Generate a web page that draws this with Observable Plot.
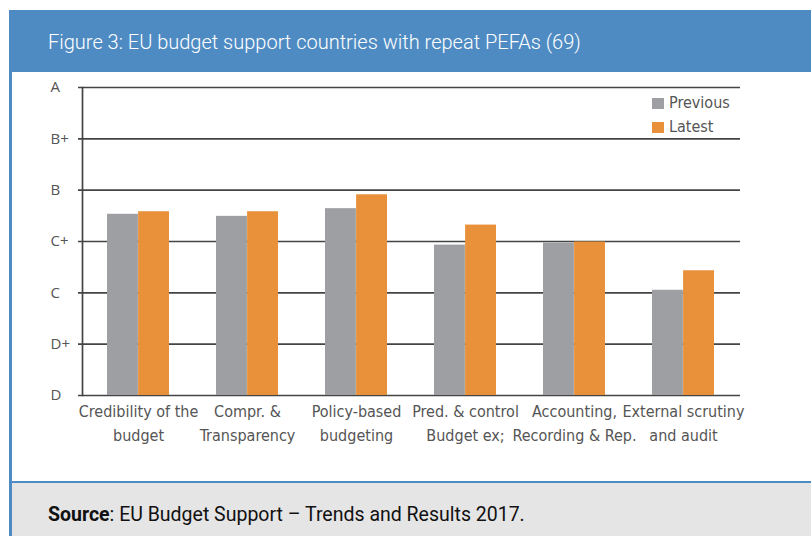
<!DOCTYPE html>
<html>
<head>
<meta charset="utf-8">
<script src="https://cdn.jsdelivr.net/npm/d3@7"></script>
<script src="https://cdn.jsdelivr.net/npm/@observablehq/plot@0.6"></script>
<style>
  html, body { margin: 0; padding: 0; }
  body { width: 811px; height: 536px; position: relative; overflow: hidden; background: #fff; }
  #header { position: absolute; left: 9px; top: 10px; width: 802px; height: 62px; background: #4f8bc3; }
  #title { position: absolute; left: 48px; top: 30px; color: #fff; font-family: Roboto, "Open Sans", sans-serif; font-size: 20px; font-weight: 300; white-space: nowrap; }
  #lborder { position: absolute; left: 9px; top: 72px; width: 3px; height: 464px; background: #4f8bc3; }
  #footer { position: absolute; left: 12px; top: 481px; width: 799px; height: 55px; background: #e5e5e5; border-top: 2px solid #4f8bc3; }
  #source { position: absolute; left: 48px; top: 503px; font-family: Roboto, "Open Sans", sans-serif; font-size: 19.5px; color: #111; white-space: nowrap; }
  #source b { font-weight: 700; }
  #chart { position: absolute; left: 12px; top: 72px; }
  #legend { position: absolute; left: 652px; top: 91px; font-family: "Liberation Sans Narrow", "DejaVu Sans Condensed", sans-serif; font-size: 16px; color: #555; line-height: 24px; }
  #legend .sw { display: inline-block; width: 12px; height: 11px; margin-right: 5px; vertical-align: -1px; }
  #chart svg g[aria-label="y-axis tick label"] text { font-size: 15px; }
</style>
</head>
<body>
<div id="header"></div>
<div id="title">Figure 3: EU budget support countries with repeat PEFAs (69)</div>
<div id="lborder"></div>
<div id="chart"></div>
<div id="legend"></div>
<div id="footer"></div>
<div id="source"><b>Source</b>: EU Budget Support – Trends and Results 2017.</div>
<script>
// Data
const categories = [
  "Credibility of the\nbudget",
  "Compr. &\nTransparency",
  "Policy-based\nbudgeting",
  "Pred. & control\nBudget ex;",
  "Accounting,\nRecording & Rep.",
  "External scrutiny\nand audit"
];
const series = ["Previous", "Latest"];
// scores on grade index scale: 0 = D, 1 = D+, 2 = C, 3 = C+, 4 = B, 5 = B+, 6 = A
const previous = [3.53, 3.49, 3.64, 2.93, 2.97, 2.05];
const latest   = [3.58, 3.58, 3.91, 3.32, 2.99, 2.43];
const grades = ["D", "D+", "C", "C+", "B", "B+", "A"];
const colors = ["#9d9fa2", "#e8913a"];

const data = categories.flatMap((c, i) => [
  {category: c, series: "Previous", value: previous[i]},
  {category: c, series: "Latest", value: latest[i]}
]);

const gridColor = "#444";
const condensed = "'Liberation Sans Narrow', 'DejaVu Sans Condensed', sans-serif";

const W = 799, H = 409, mL = 70, mR = 71, mT = 15, mB = 86;
const xOpts = {type: "band", domain: categories, paddingInner: 0.43, paddingOuter: 0.23};
// half band width, from the library's own band scale, so the two series share each band
const xs = Plot.scale({x: {...xOpts, range: [mL, W - mR]}});
const half = xs.bandwidth / 2;

const chart = Plot.plot({
  width: W,
  height: H,
  marginLeft: mL,
  marginRight: mR,
  marginTop: mT,
  marginBottom: mB,
  style: {fontFamily: condensed, background: "transparent"},
  x: {...xOpts, label: null, axis: null},
  y: {domain: [0, 6], label: null, axis: null},
  color: {domain: series, range: colors},
  marks: [
    Plot.ruleY(d3.range(grades.length), {stroke: gridColor, strokeWidth: 1.7, insetLeft: -4}),
    Plot.frame({anchor: "left", stroke: gridColor, strokeWidth: 1.7}),
    Plot.axisY(d3.range(grades.length), {
      tickFormat: (d) => grades[d],
      tickSize: 0,
      tickPadding: 32,
      textAnchor: "start",
      fontSize: 15,
      fontFamily: "'Open Sans', sans-serif",
      fill: "#555"
    }),
    Plot.barY(data.filter(d => d.series === "Previous"), {x: "category", y: "value", fill: "series", insetRight: half}),
    Plot.barY(data.filter(d => d.series === "Latest"), {x: "category", y: "value", fill: "series", insetLeft: half}),
    Plot.axisX({tickSize: 0, tickPadding: 4, fontSize: 16, lineHeight: 1.5, fill: "#555", label: null})
  ]
});
document.getElementById("chart").appendChild(chart);

// Legend
const legend = document.getElementById("legend");
series.forEach((s, i) => {
  const row = document.createElement("div");
  const sw = document.createElement("span");
  sw.className = "sw";
  sw.style.background = colors[i];
  row.appendChild(sw);
  row.appendChild(document.createTextNode(s));
  legend.appendChild(row);
});
</script>
</body>
</html>
